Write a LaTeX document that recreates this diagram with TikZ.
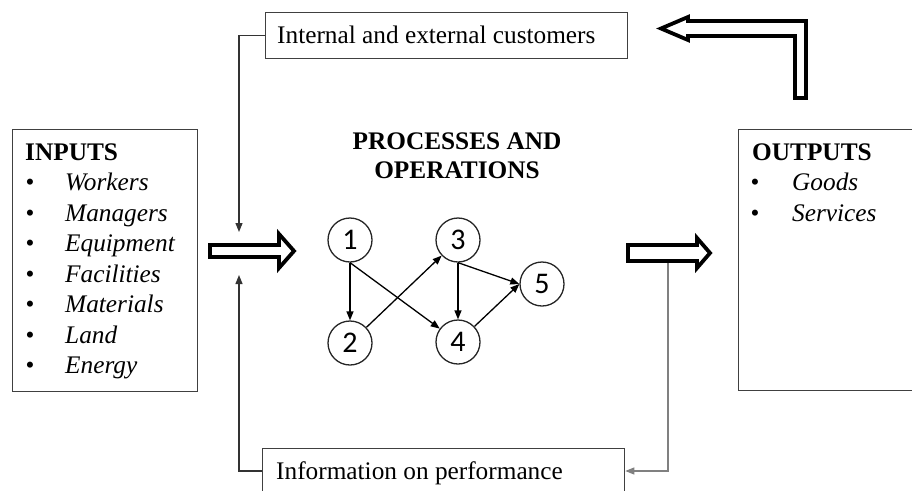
\documentclass[tikz,border=0pt]{standalone}
\usepackage{fontspec}
\setmainfont{Liberation Serif}
\newfontfamily\numfont{Carlito}
\usetikzlibrary{arrows.meta}
\begin{document}
\begin{tikzpicture}[x=1pt,y=-1pt,
  every node/.style={inner sep=0pt, font=\fontsize{25.3}{30.5}\selectfont},
  lbl/.style={anchor=base west, font=\fontsize{25.3}{30.5}\selectfont},
  hdr/.style={anchor=base west, font=\bfseries\fontsize{25.3}{30.5}\selectfont},
  itm/.style={anchor=base west, font=\itshape\fontsize{25.3}{30.5}\selectfont},
  bul/.style={anchor=base, font=\fontsize{25.3}{30.5}\selectfont},
  ttl/.style={anchor=base, font=\bfseries\fontsize{25.3}{30.5}\selectfont},
  box/.style={draw=black!75, line width=1.3pt},
  blockarrow/.style={draw=black, line width=3.8pt, fill=white, line join=miter},
  feed/.style={draw=black!80, line width=1.2pt},
  tip/.style={-{Triangle[length=9pt,width=7pt]}},
  proc/.style={circle, draw=black!85, line width=1.3pt, minimum size=44pt, font=\numfont\fontsize{30}{30}\selectfont},
  edge/.style={draw=black, line width=1.3pt, -{Triangle[length=9pt,width=7pt]}}
]
\path[use as bounding box] (0,0) rectangle (912,490);
\clip (0,0) rectangle (912,490);

% boxes
\node[box, anchor=north west, minimum width=185pt, minimum height=262pt] (inbox) at (12,129) {};
\node[box, anchor=north west, minimum width=200pt, minimum height=261pt] (outbox) at (738,129) {};
\node[box, anchor=north west, minimum width=362pt, minimum height=46pt] (cust) at (265,12) {};
\node[lbl] (custtxt) at (277,43.5) {Internal and external customers};
\node[box, anchor=north west, minimum width=362pt, minimum height=62pt] (info) at (262,448) {};
\node[lbl] (infotxt) at (276,479) {Information on performance};

% inputs text
\node[hdr] (inh) at (25,160) {INPUTS};
\foreach \t [count=\i] in {Workers,Managers,Equipment,Facilities,Materials,Land,Energy}{
  \node[bul] (ib\i) at (30,160+30.5*\i) {\textbullet};
  \node[itm] (it\i) at (65,160+30.5*\i) {\t};
}

% outputs text
\node[hdr] (outh) at (752,160) {OUTPUTS};
\node[bul] (ob1) at (755,190.5) {\textbullet};
\node[itm] (ot1) at (792,190.5) {Goods};
\node[bul] (ob2) at (755,221) {\textbullet};
\node[itm] (ot2) at (792,221) {Services};

% title
\node[ttl] (t1) at (457,149) {PROCESSES AND};
\node[ttl] (t2) at (457,178) {OPERATIONS};

% process graph
\node[proc] (c1) at (350,240) {1};
\node[proc] (c2) at (350,343) {2};
\node[proc] (c3) at (458,240) {3};
\node[proc] (c4) at (458,342) {4};
\node[proc] (c5) at (542,284) {5};
\draw[edge] (c1) -- (c2);
\draw[edge] (c1.south) -- (c4);
\draw[edge] (c2) -- (c3);
\draw[edge] (c3) -- (c4);
\draw[edge] (c3.south) -- (c5.west);
\draw[edge] (c4) -- (c5.west);

% block arrows
\draw[blockarrow] (210,245) -- (279,245) -- (279,234) -- (294,251) -- (279,268) -- (279,257) -- (210,257) -- cycle;
\draw[blockarrow] (628,245) -- (697,245) -- (697,238) -- (710,253) -- (697,268) -- (697,261) -- (628,261) -- cycle;
\draw[blockarrow] (661,28.5) -- (688,17) -- (688,21) -- (806,21) -- (806,98) -- (795,98) -- (795,36) -- (688,36) -- (688,40) -- cycle;

% feedback connectors
\coordinate (inTop) at (239,232);
\coordinate (inBot) at (239,275);
\coordinate (outTap) at (668,263);
\draw[feed, tip] (cust.west) -| (inTop);
\draw[feed, tip] (info.west |- 0,471) -| (inBot);
\draw[feed, draw=black!50, tip] (outTap) |- (info.east |- 0,471);
\end{tikzpicture}
\end{document}
